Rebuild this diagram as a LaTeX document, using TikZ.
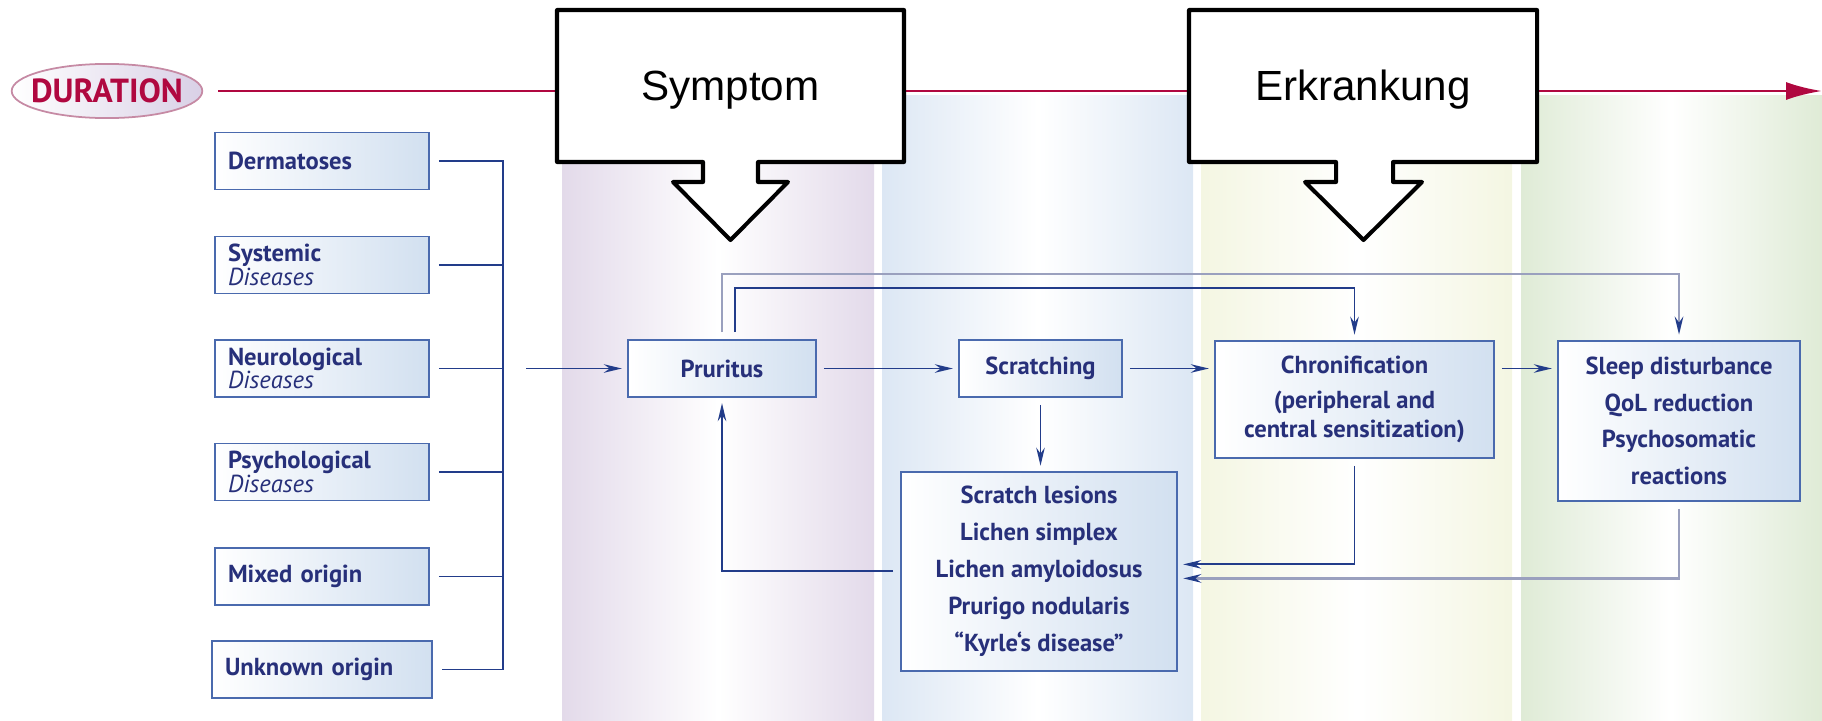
\documentclass[tikz,border=0pt]{standalone}
\usepackage{fontspec}
\usepackage{tikz}
\usetikzlibrary{shapes.geometric, arrows.meta, positioning}
\setmainfont{PT Sans}
\newfontfamily\calloutfont{Liberation Sans}

\definecolor{navyText}{HTML}{27307A}
\definecolor{navyLine}{HTML}{223C8A}
\definecolor{boxEdge}{HTML}{4A6AAE}
\definecolor{boxShade}{HTML}{D2E0F0}
\definecolor{greyLine}{HTML}{9AA0BE}
\definecolor{timeRed}{HTML}{B00840}
\definecolor{bandPurple}{HTML}{E3DAEA}
\definecolor{bandBlue}{HTML}{DCE7F4}
\definecolor{bandYellow}{HTML}{F4F6E2}
\definecolor{bandGreen}{HTML}{DFEBD6}
\definecolor{ovalEdge}{HTML}{C68AA4}
\definecolor{ovalShade}{HTML}{D9D0E6}

\begin{document}
\begin{tikzpicture}[
	causeBox/.style={draw=boxEdge, line width=1pt, left color=white, right color=boxShade, text=navyText, text width=3.76cm, inner xsep=0.26cm, inner ysep=0pt, minimum height=1.14cm, align=left, font={\fontsize{14}{13.5}\selectfont}},
	flowBox/.style={draw=boxEdge, line width=1pt, left color=white, right color=boxShade, text=navyText, align=center, inner sep=0pt, font=\fontsize{14}{21}\selectfont\bfseries},
	conn/.style={draw=navyLine, line width=1.1pt},
	arr/.style={conn, -{Stealth[length=0.36cm,width=0.17cm]}, shorten >=3pt, shorten <=4pt},
	greyArr/.style={draw=greyLine, line width=1.6pt, -{Stealth[length=0.36cm,width=0.17cm,color=navyLine]}, shorten >=3pt, shorten <=4pt},
	callout/.style={draw=black, fill=white, line width=2.3pt, line join=round}
	]
	\useasboundingbox (0,0) rectangle (36.44,-14.4);

	% phase bands
	\fill[left color=bandPurple, right color=bandPurple, middle color=white] (11.24,-1.9) rectangle (17.48,-14.4);
	\fill[left color=bandBlue, right color=bandBlue, middle color=white] (17.64,-1.9) rectangle (23.86,-14.4);
	\fill[left color=bandYellow, right color=bandYellow, middle color=white] (24.02,-1.9) rectangle (30.24,-14.4);
	\fill[left color=bandGreen, right color=bandGreen, middle color=white] (30.42,-1.9) rectangle (36.44,-14.4);

	% time line
	\node[ellipse, draw=ovalEdge, line width=1pt, left color=white, right color=ovalShade, inner xsep=-0.17cm, inner ysep=0.14cm, text=timeRed, font=\fontsize{19}{19}\selectfont\bfseries] (duration) at (2.14,-1.82) {DURATION};
	\coordinate (timeEnd) at (36.44,-1.82);
	\draw[timeRed, line width=1.7pt, -{Latex[length=0.72cm,width=0.36cm]}] ([xshift=0.3cm]duration.east) -- (timeEnd);

	% callouts
	\draw[callout] (11.14,-0.2) -- (18.08,-0.2) -- (18.08,-3.24) -- (15.16,-3.24) -- (15.16,-3.64) -- (15.76,-3.64) -- (14.61,-4.8) -- (13.46,-3.64) -- (14.06,-3.64) -- (14.06,-3.24) -- (11.14,-3.24) -- cycle;
	\node[font=\calloutfont\fontsize{24}{24}\selectfont] (symptom) at (14.61,-1.8) {Symptom};
	\draw[callout] (23.78,-0.2) -- (30.74,-0.2) -- (30.74,-3.24) -- (27.86,-3.24) -- (27.86,-3.64) -- (28.44,-3.64) -- (27.27,-4.8) -- (26.10,-3.64) -- (26.72,-3.64) -- (26.72,-3.24) -- (23.78,-3.24) -- cycle;
	\node[font=\calloutfont\fontsize{24}{24}\selectfont] (erkrankung) at (27.26,-1.8) {Erkrankung};

	% causes
	\node[causeBox] (dermatoses) at (6.44,-3.22) {\textbf{Dermatoses}};
	\node[causeBox] (systemic) at (6.44,-5.30) {\textbf{Systemic}\\\textit{Diseases}};
	\node[causeBox] (neurological) at (6.44,-7.37) {\textbf{Neurological}\\\textit{Diseases}};
	\node[causeBox] (psychological) at (6.44,-9.44) {\textbf{Psychological}\\\textit{Diseases}};
	\node[causeBox] (mixedOrigin) at (6.44,-11.53) {\textbf{Mixed origin}};
	\node[causeBox, text width=3.88cm] (unknownOrigin) at (6.44,-13.39) {\textbf{Unknown origin}};

	% course
	\node[flowBox, minimum width=3.76cm, minimum height=1.14cm] (pruritus) at (14.44,-7.37) {Pruritus};
	\node[flowBox, minimum width=3.26cm, minimum height=1.14cm] (scratching) at (20.81,-7.37) {Scratching};
	\node[flowBox, anchor=north, minimum width=5.58cm, minimum height=2.34cm, font=\fontsize{14}{16}\selectfont\bfseries] (chronification) at (27.09,-6.8) {Chronification\\[4pt](peripheral and\\central sensitization)};
	\node[flowBox, anchor=north, minimum width=4.84cm, minimum height=3.2cm] (sleepDist) at (33.58,-6.8) {Sleep disturbance\\QoL reduction\\Psychosomatic\\reactions};
	\node[flowBox, anchor=north, minimum width=5.52cm, minimum height=3.98cm] (lesions) at (20.78,-9.42) {Scratch lesions\\Lichen simplex\\Lichen amyloidosus\\Prurigo nodularis\\“Kyrle`s disease”};

	% collecting bus
	\coordinate (bus) at (10.06,0);
	\coordinate (busOut) at (10.38,-7.37);
	\draw[conn] ([xshift=0.18cm]dermatoses.east) -| (bus |- unknownOrigin.east) -- ([xshift=0.18cm]unknownOrigin.east);
	\draw[conn] ([xshift=0.18cm]systemic.east) -- (bus |- systemic.east);
	\draw[conn] ([xshift=0.18cm]neurological.east) -- (bus |- neurological.east);
	\draw[conn] ([xshift=0.18cm]psychological.east) -- (bus |- psychological.east);
	\draw[conn] ([xshift=0.18cm]mixedOrigin.east) -- (bus |- mixedOrigin.east);
	\draw[arr] (busOut) -- (pruritus.west);

	\draw[arr] (pruritus) -- (scratching);
	\draw[arr] (scratching) -- (scratching -| chronification.west);
	\draw[arr] (chronification.east |- pruritus) -- (sleepDist.west |- pruritus);
	\draw[arr] (scratching.south) -- (scratching.south |- lesions.north);
	\draw[arr] (lesions.west) -| (pruritus.south);
	\draw[arr] (chronification.south) |- ([yshift=0.14cm]lesions.east);
	\draw[greyArr] (sleepDist.south) |- ([yshift=-0.14cm]lesions.east);
	\draw[greyArr] (pruritus.north) |- ([yshift=1.32cm]sleepDist.north) -- (sleepDist.north);
	\draw[arr] ([xshift=0.26cm]pruritus.north) |- ([yshift=1.04cm]chronification.north) -- (chronification.north);
\end{tikzpicture}
\end{document}
